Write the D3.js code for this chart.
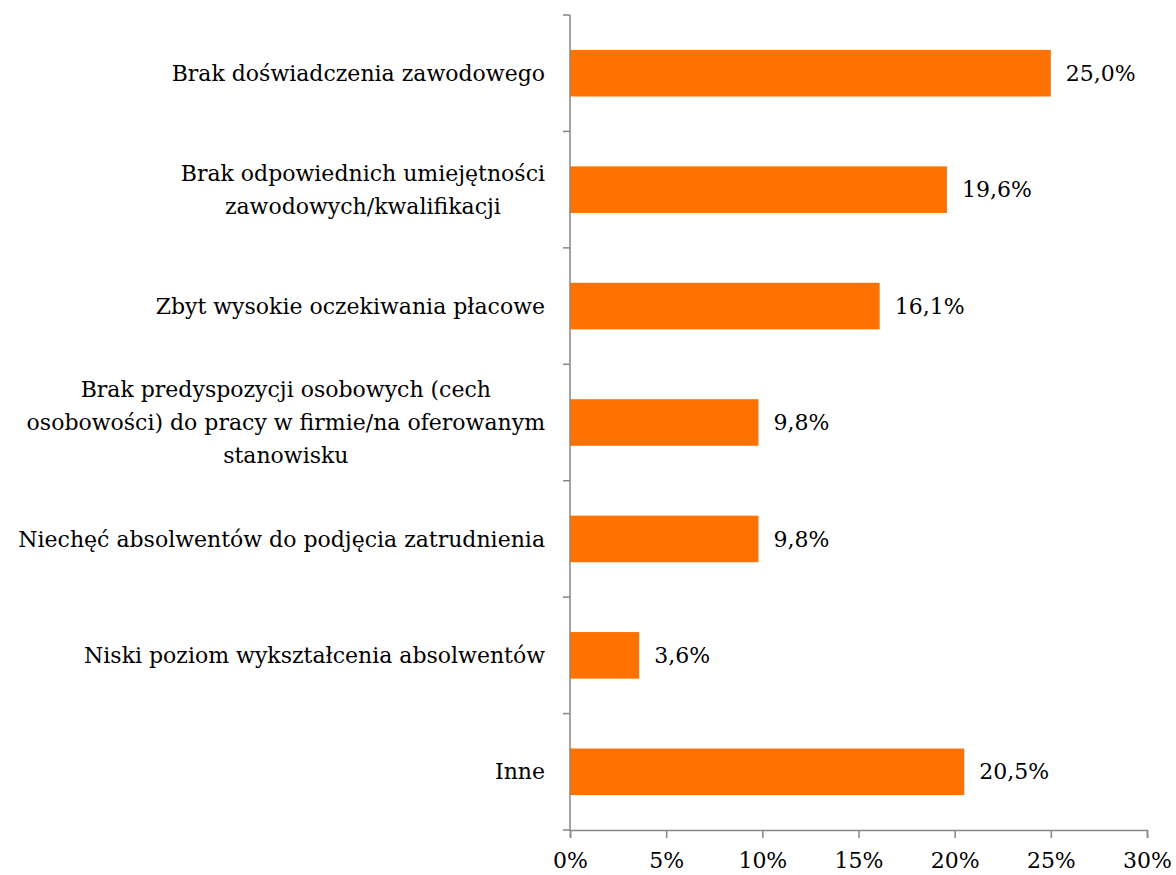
<!DOCTYPE html>
<html>
<head>
<meta charset="utf-8">
<script src="https://cdn.jsdelivr.net/npm/d3@7"></script>
<style>
  html, body { margin: 0; padding: 0; background: #fff; }
  svg { display: block; }
</style>
</head>
<body>
<div id="chart"></div>
<script>
// Data
const categories = [
    ['Brak doświadczenia zawodowego'],
    ['Brak odpowiednich umiejętności', 'zawodowych/kwalifikacji'],
    ['Zbyt wysokie oczekiwania płacowe'],
    ['Brak predyspozycji osobowych (cech', 'osobowości) do pracy w firmie/na oferowanym', 'stanowisku'],
    ['Niechęć absolwentów do podjęcia zatrudnienia'],
    ['Niski poziom wykształcenia absolwentów'],
    ['Inne']
];
const values = [25.0, 19.6, 16.1, 9.8, 9.8, 3.6, 20.5];
const xTicks = [0, 5, 10, 15, 20, 25, 30];

const FONT = '"DejaVu Serif", serif';
const FONT_SIZE = 22;
const width = 1176, height = 875;
const margin = { top: 15, right: 29, bottom: 45, left: 570 };

const svg = d3.select('#chart').append('svg')
    .attr('width', width)
    .attr('height', height);

const x = d3.scaleLinear()
    .domain([0, 30])
    .range([margin.left, width - margin.right]);

const y = d3.scaleBand()
    .domain(d3.range(categories.length))
    .range([margin.top, height - margin.bottom])
    .paddingInner(0.6)
    .paddingOuter(0.3);

const step = y.step();

// Bars
svg.selectAll('rect.bar')
    .data(values)
    .join('rect')
    .attr('class', 'bar')
    .attr('x', x(0))
    .attr('y', (d, i) => y(i))
    .attr('width', d => x(d) - x(0))
    .attr('height', y.bandwidth())
    .attr('fill', '#ff7200');

// Value labels
svg.selectAll('text.value')
    .data(values)
    .join('text')
    .attr('class', 'value')
    .attr('x', d => x(d) + 15)
    .attr('y', (d, i) => y(i) + y.bandwidth() / 2)
    .attr('dy', '0.35em')
    .attr('font-family', FONT)
    .attr('font-size', FONT_SIZE)
    .attr('fill', '#000')
    .text(d => d.toFixed(1).replace('.', ',') + '%');

// Y axis line + ticks at band boundaries
const axisColor = '#868686';
svg.append('line')
    .attr('x1', x(0)).attr('x2', x(0))
    .attr('y1', margin.top).attr('y2', height - margin.bottom)
    .attr('stroke', axisColor).attr('stroke-width', 1.5);

const boundaries = d3.range(categories.length + 1).map(i => margin.top + i * step);
svg.selectAll('line.ytick')
    .data(boundaries)
    .join('line')
    .attr('class', 'ytick')
    .attr('x1', x(0) - 7).attr('x2', x(0))
    .attr('y1', d => d).attr('y2', d => d)
    .attr('stroke', axisColor).attr('stroke-width', 1.5);

// X axis
const xAxis = svg.append('g')
    .attr('transform', `translate(0,${height - margin.bottom})`)
    .call(d3.axisBottom(x).tickValues(xTicks).tickSize(8).tickPadding(10)
        .tickFormat(d => d + '%'));
xAxis.select('.domain').attr('stroke', axisColor).attr('stroke-width', 1.5);
xAxis.selectAll('.tick line').attr('stroke', axisColor).attr('stroke-width', 1.5);
xAxis.selectAll('.tick text')
    .attr('font-family', FONT)
    .attr('font-size', FONT_SIZE)
    .attr('fill', '#000')
    .attr('dy', '0.9em');

// Category labels: block right-aligned at 545, lines centered within block
const lineH = 33;
const labelGroups = svg.selectAll('g.cat')
    .data(categories)
    .join('g')
    .attr('class', 'cat');

labelGroups.each(function(lines, i) {
    const g = d3.select(this);
    const cy = y(i) + y.bandwidth() / 2;
    const texts = g.selectAll('text')
        .data(lines)
        .join('text')
        .attr('font-family', FONT)
        .attr('font-size', FONT_SIZE)
        .attr('fill', '#000')
        .attr('text-anchor', 'middle')
        .attr('dy', '0.35em')
        .attr('y', (d, j) => cy + (j - (lines.length - 1) / 2) * lineH)
        .text(d => d);
    let maxW = 0;
    texts.each(function() { maxW = Math.max(maxW, this.getComputedTextLength()); });
    texts.attr('x', x(0) - 25 - maxW / 2);
});
</script>
</body>
</html>
